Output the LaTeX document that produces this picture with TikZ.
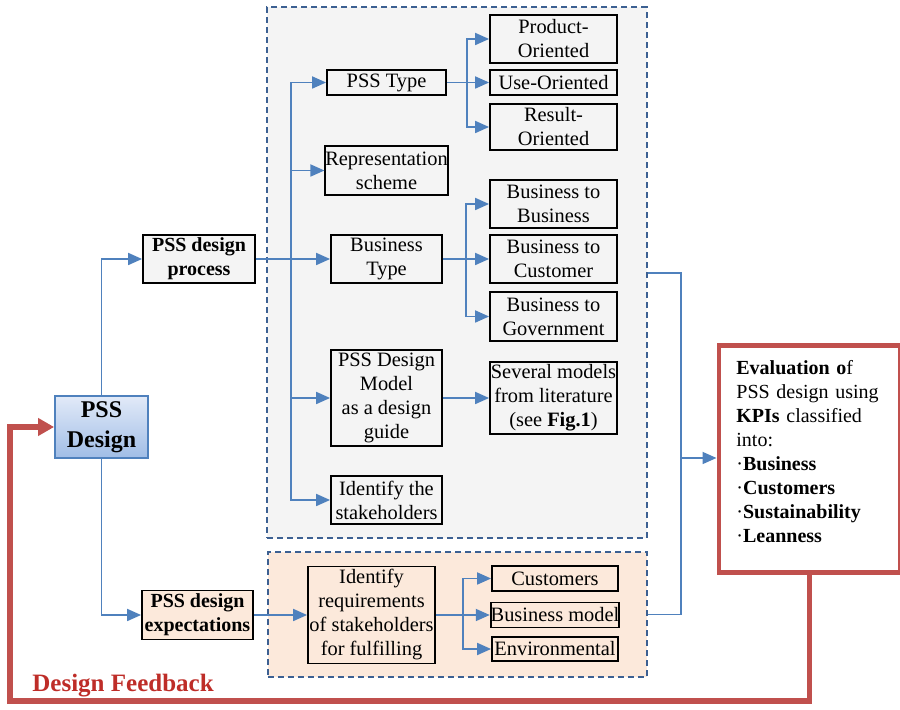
\documentclass[tikz,border=0pt]{standalone}
\usepackage{fontspec}
\setmainfont{Liberation Serif}
\usetikzlibrary{arrows.meta}
\definecolor{flowblue}{RGB}{79,129,189}
\definecolor{regionblue}{RGB}{60,96,146}
\definecolor{regiongray}{RGB}{244,244,244}
\definecolor{regionorange}{RGB}{252,233,219}
\definecolor{fbred}{RGB}{192,80,77}
\definecolor{fbtext}{RGB}{190,45,40}
\definecolor{designtop}{RGB}{226,234,248}
\definecolor{designbot}{RGB}{160,189,230}
\newcommand{\boxfont}{\fontsize{10.2pt}{12pt}\selectfont}
\tikzset{
  region/.style={draw=regionblue, line width=1pt, dash pattern=on 3pt off 2pt, inner sep=0pt},
  box/.style={draw, line width=0.9pt, align=center, inner sep=0pt, font=\boxfont},
  flow/.style={draw=flowblue, line width=0.9pt},
  arrow/.style={flow, -{Triangle[length=7pt,width=6pt]}},
  feedback/.style={draw=fbred, line width=2.7pt, -{Triangle[length=8pt,width=8.5pt]}}
}
\begin{document}
\begin{tikzpicture}[x=0.5pt,y=-0.5pt]
                \useasboundingbox (0,0) rectangle (900,710);
                %% regions
                \node[region, fill=regiongray, minimum width=189.75pt, minimum height=265.5pt] (procreg) at (456.75,273) {};
                \node[region, fill=regionorange, minimum width=189.5pt, minimum height=62.5pt] (expreg) at (457,614.5) {};
                %% PSS design
                \node[box, draw=flowblue, top color=designtop, bottom color=designbot, minimum width=46.5pt, minimum height=31pt, font=\fontsize{12pt}{15pt}\bfseries\selectfont] (design) at (101.5,427) {PSS\\Design};
                \node[box, fill=regiongray, minimum width=56pt, minimum height=24pt, font=\fontsize{10pt}{12pt}\bfseries\selectfont] (process) at (199,259) {PSS design\\process};
                \node[box, fill=regionorange, minimum width=55.5pt, minimum height=24.5pt, font=\fontsize{10pt}{12pt}\bfseries\selectfont] (expect) at (197.5,615) {PSS design\\expectations};
                \draw[arrow] (design.north) |- (process.west);
                \draw[arrow] (design.south) |- (expect.west);
                %% design process
                \node[box, minimum width=59.5pt, minimum height=12.5pt] (psstype) at (386.5,82.5) {PSS Type};
                \node[box, minimum width=59.5pt, minimum height=24.5pt] (repr) at (386.5,170.5) {Representation\\scheme};
                \node[box, minimum width=55.5pt, minimum height=24pt] (btype) at (386.5,259) {Business\\Type};
                \node[box, minimum width=55.5pt, minimum height=48pt] (model) at (386.5,398) {PSS Design\\Model\\as a design\\guide};
                \node[box, minimum width=55.5pt, minimum height=24pt] (ident) at (386.5,500) {Identify the\\stakeholders};
                \coordinate (trunk) at (291,259);
                \draw[arrow] (process.east) -- (btype.west);
                \draw[arrow] (trunk) |- (psstype.west);
                \draw[arrow] (trunk) |- (repr.west);
                \draw[arrow] (trunk) |- (model.west);
                \draw[arrow] (trunk) |- (ident.west);
                %% PSS type
                \node[box, minimum width=63.5pt, minimum height=24pt] (prod) at (553.5,39) {Product-\\Oriented};
                \node[box, minimum width=63.5pt, minimum height=12.5pt] (use) at (553.5,82.5) {Use-Oriented};
                \node[box, minimum width=63.5pt, minimum height=23pt] (result) at (553.5,127) {Result-\\Oriented};
                \coordinate (typefork) at (467,82.5);
                \draw[arrow] (psstype.east) -- (use.west);
                \draw[arrow] (typefork) |- (prod.west);
                \draw[arrow] (typefork) |- (result.west);
                %% business type
                \node[box, minimum width=63.5pt, minimum height=24pt] (btob) at (553.5,204) {Business to\\Business};
                \node[box, minimum width=63.5pt, minimum height=24pt] (btoc) at (553.5,259) {Business to\\Customer};
                \node[box, minimum width=63.5pt, minimum height=24.5pt] (btog) at (553.5,316.5) {Business to\\Government};
                \coordinate (busfork) at (466,259);
                \draw[arrow] (btype.east) -- (btoc.west);
                \draw[arrow] (busfork) |- (btob.west);
                \draw[arrow] (busfork) |- (btog.west);
                %% models
                \node[box, minimum width=63.5pt, minimum height=36pt] (several) at (553.5,398) {Several models\\from literature\\(see \textbf{Fig.1})};
                \draw[arrow] (model.east) -- (several.west);
                %% design expectations
                \node[box, minimum width=63.5pt, minimum height=48.5pt] (req) at (371.5,615) {Identify\\requirements\\of stakeholders\\for fulfilling};
                \node[box, minimum width=63pt, minimum height=12.5pt] (cust) at (555,578.5) {Customers};
                \node[box, minimum width=63pt, minimum height=12.5pt] (bmodel) at (555,615) {Business model};
                \node[box, minimum width=63pt, minimum height=12pt] (env) at (555,649) {Environmental};
                \coordinate (reqfork) at (463,615);
                \draw[arrow] (expect.east) -- (req.west);
                \draw[arrow] (req.east) -- (bmodel.west);
                \draw[arrow] (reqfork) |- (cust.west);
                \draw[arrow] (reqfork) |- (env.west);
                %% evaluation
                \node[box, anchor=north west, draw=fbred, line width=2.4pt, fill=white, minimum width=90.75pt, minimum height=113.75pt] (eval) at (716.5,343) {};
                \node[anchor=north west, inner sep=0pt, text width=75pt, align=left, font=\fontsize{10pt}{12pt}\selectfont] (evaltext) at (736,360) {\textbf{Evaluation o}f\\PSS design using\\\textbf{KPIs} classified\\into:\\·\textbf{Business}\\·\textbf{Customers}\\·\textbf{Sustainability}\\·\textbf{Leanness}};
                \coordinate (merge) at (681,458);
                \draw[flow] (procreg.east) -| (merge);
                \draw[flow] (expreg.east) -| (merge);
                \draw[arrow] (merge) -- (merge -| eval.west);
                %% feedback
                \coordinate (fbcorner) at (10,701);
                \draw[feedback] (eval.south) |- (fbcorner) |- (design.west);
                \node[anchor=base west, inner sep=0pt, text=fbtext, font=\fontsize{12.5pt}{14pt}\bfseries\selectfont] (fblabel) at (32,692) {Design Feedback};
            \end{tikzpicture}
\end{document}
